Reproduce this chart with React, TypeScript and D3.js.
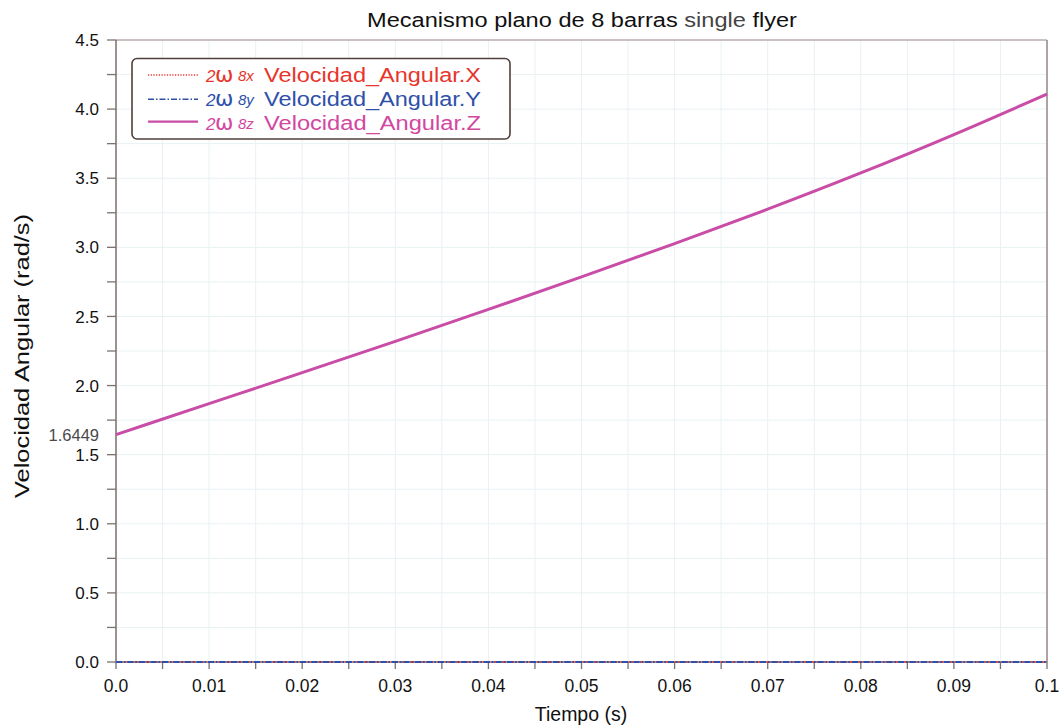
import React from "react";
import * as d3 from "d3";

const timeValues = [0, 0.01, 0.02, 0.03, 0.04, 0.05, 0.06, 0.07, 0.08, 0.09, 0.1];
const omegaX = [0, 0, 0, 0, 0, 0, 0, 0, 0, 0, 0];
const omegaY = [0, 0, 0, 0, 0, 0, 0, 0, 0, 0, 0];
const omegaZ = [1.6449, 1.869, 2.093, 2.32, 2.551, 2.786, 3.027, 3.276, 3.538, 3.816, 4.109];
const xTicks = [0, 0.01, 0.02, 0.03, 0.04, 0.05, 0.06, 0.07, 0.08, 0.09, 0.1];
const xTickLabels = ["0.0", "0.01", "0.02", "0.03", "0.04", "0.05", "0.06", "0.07", "0.08", "0.09", "0.1"];
const yTicks = [0, 0.5, 1, 1.5, 2, 2.5, 3, 3.5, 4, 4.5];
const yTickLabels = ["0.0", "0.5", "1.0", "1.5", "2.0", "2.5", "3.0", "3.5", "4.0", "4.5"];
const seriesNames = ["Velocidad_Angular.X", "Velocidad_Angular.Y", "Velocidad_Angular.Z"];
const seriesSubs = ["8x", "8y", "8z"];
const startLabel = "1.6449";

export default function App() {
  const W = 1059, H = 727;
  const x = d3.scaleLinear().domain([0, 0.1]).range([116, 1047]);
  const y = d3.scaleLinear().domain([0, 4.5]).range([662, 40]);
  const line = d3.line<number>().x((_, i) => x(timeValues[i])).y((d) => y(d)).curve(d3.curveMonotoneX);
  const minorX = d3.range(0, 21).map((i) => i * 0.005);
  const minorY = d3.range(0, 19).map((i) => i * 0.25);
  const font = "'Liberation Sans', Arial, sans-serif";
  const axisColor = "#7d716d";
  const series = [
    { data: omegaX, color: "#e8352b", text: "#e8352b", dash: "1.2,1.5", w: 1.2 },
    { data: omegaY, color: "#2f50aa", text: "#2f50aa", dash: "6,2,1.5,2", w: 1.4 },
    { data: omegaZ, color: "#c94ca6", text: "#d3479f", dash: "", w: 3 },
  ];
  const legRowLine = [75, 99.3, 121.7];
  const legRowBase = [82, 106, 129.5];
  return (
    <svg width={W} height={H} style={{ position: "absolute", left: 0, top: 0, background: "#fff" }} fontFamily={font}>
      <rect x={0} y={0} width={W} height={H} fill="#fff" />
      {minorX.map((v, i) => (
        <line key={"gx" + i} x1={x(v)} x2={x(v)} y1={40} y2={662} stroke="#e9f1f3" strokeWidth={1} />
      ))}
      {minorY.map((v, i) => (
        <line key={"gy" + i} x1={116} x2={1047} y1={y(v)} y2={y(v)} stroke="#e9f1f3" strokeWidth={1} />
      ))}
      <line x1={116} x2={1047} y1={40} y2={40} stroke="#a08c88" strokeWidth={1.2} />
      <line x1={1047} x2={1047} y1={40} y2={662} stroke="#958985" strokeWidth={1.5} />
      <line x1={116} x2={116} y1={40} y2={662} stroke={axisColor} strokeWidth={1.5} />
      <line x1={116} x2={1047} y1={662} y2={662} stroke={axisColor} strokeWidth={1.5} />
      {minorY.map((v, i) => (
        <line key={"ty" + i} x1={107} x2={116} y1={y(v)} y2={y(v)} stroke={axisColor} strokeWidth={1.3} />
      ))}
      {yTicks.map((v, i) => (
        <text key={"yl" + i} x={99} y={y(v)} dy="0.36em" textAnchor="end" fontSize={17} fill="#111">
          {yTickLabels[i]}
        </text>
      ))}
      <text x={99} y={y(omegaZ[0])} dy="0.36em" textAnchor="end" fontSize={16.5} fill="#4a4a4a">
        {startLabel}
      </text>
      {minorX.map((v, i) => (
        <line key={"tx" + i} x1={x(v)} x2={x(v)} y1={662} y2={669} stroke={axisColor} strokeWidth={1.3} />
      ))}
      {xTicks.map((v, i) => (
        <text key={"xl" + i} x={x(v)} y={692} textAnchor="middle" fontSize={17.5} fill="#111">
          {xTickLabels[i]}
        </text>
      ))}
      {series.map((s, i) => (
        <path key={"s" + i} d={line(s.data) || ""} fill="none" stroke={s.color} strokeWidth={i === 2 ? 3 : 2}
          strokeDasharray={s.dash || undefined} />
      ))}
      <text x={582} y={27} textAnchor="middle" fontSize={20} textLength={430} lengthAdjust="spacingAndGlyphs" fill="#111">
        Mecanismo plano de 8 barras <tspan fill="#444">single</tspan> flyer
      </text>
      <text x={581} y={721} textAnchor="middle" fontSize={19.5} fill="#111">Tiempo (s)</text>
      <text transform="translate(29,356) rotate(-90)" textAnchor="middle" fontSize={20} textLength={284}
        lengthAdjust="spacingAndGlyphs" fill="#111">
        Velocidad Angular (rad/s)
      </text>
      <rect x={132} y={58.5} width={378} height={80.5} rx={5} ry={5} fill="#fff" stroke="#4f403b" strokeWidth={1.6} />
      {series.map((s, i) => (
        <g key={"lg" + i}>
          <line x1={148} x2={198} y1={legRowLine[i]} y2={legRowLine[i]} stroke={s.color}
            strokeWidth={i === 2 ? 2.2 : 1.4} strokeDasharray={s.dash || undefined} />
          <text x={206} y={legRowBase[i]} fontSize={17} fill={s.text} fontStyle="italic">2</text>
          <text x={215} y={legRowBase[i]} fontSize={22} fill={s.text} fontFamily="'DejaVu Sans', sans-serif">ω</text>
          <text x={238} y={legRowBase[i] - 1} fontSize={15} fill={s.text} fontStyle="italic">{seriesSubs[i]}</text>
          <text x={264} y={legRowBase[i]} fontSize={20} fill={s.text} textLength={217} lengthAdjust="spacingAndGlyphs">
            {seriesNames[i]}
          </text>
        </g>
      ))}
    </svg>
  );
}
